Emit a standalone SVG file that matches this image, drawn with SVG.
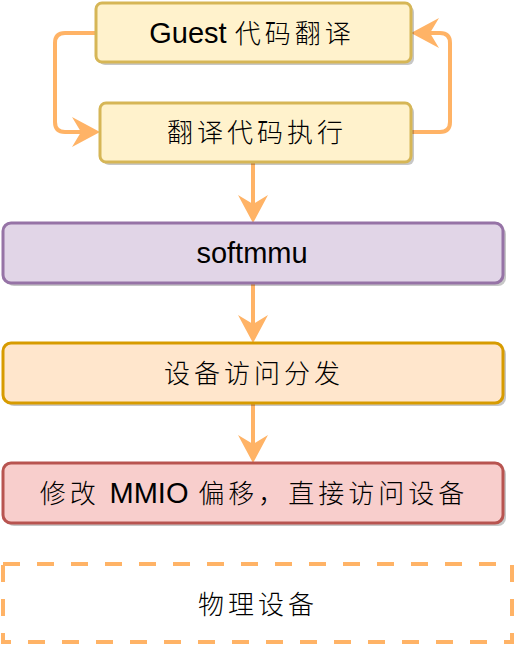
<svg xmlns="http://www.w3.org/2000/svg" width="516" height="646" viewBox="0 0 516 646">
<style>
.shadow{fill:#000;opacity:0.22}
.box{stroke-width:3}
.lat{font-family:"Liberation Sans","Noto Sans CJK SC",sans-serif;font-size:29px;fill:#000;text-anchor:middle}
.cjk{font-family:"Noto Sans CJK SC","Liberation Sans",sans-serif;font-size:26px;fill:#000;text-anchor:middle;letter-spacing:4px;font-weight:300}
.conn{fill:none;stroke:#FFB366;stroke-width:4}
</style>
<defs>
<marker id="arr" viewBox="0 0 28 30" refX="9" refY="15" markerWidth="28" markerHeight="30" markerUnits="userSpaceOnUse" orient="auto">
<path d="M0,0 L28,15 L0,30 L9,15 Z" fill="#FFB366"/>
</marker>
</defs>
<g id="connectors">
<path class="conn" d="M96,33 L65,33 Q55,33 55,43 L55,122 Q55,132 65,132 L81,132" marker-end="url(#arr)"/>
<path class="conn" d="M411,132 L440,132 Q450,132 450,122 L450,43 Q450,33 440,33 L430,33" marker-end="url(#arr)"/>
<path class="conn" d="M253,162 L253,204" marker-end="url(#arr)"/>
<path class="conn" d="M253,283 L253,324" marker-end="url(#arr)"/>
<path class="conn" d="M253,403 L253,444" marker-end="url(#arr)"/>
</g>
<g id="n1">
<rect class="shadow" x="99" y="6" width="315" height="59" rx="6"/>
<rect class="box" x="96" y="3" width="315" height="59" rx="6" fill="#fff2cc" stroke="#d6b656"/>
<text class="lat" x="252" y="43">Guest <tspan class="cjk" style="font-size:26px">代码翻译</tspan></text>
</g>
<g id="n2">
<rect class="shadow" x="103" y="106" width="311" height="59" rx="6"/>
<rect class="box" x="100" y="103" width="311" height="59" rx="6" fill="#fff2cc" stroke="#d6b656"/>
<text class="cjk" x="257" y="142">翻译代码执行</text>
</g>
<g id="n3">
<rect class="shadow" x="6" y="226" width="500" height="60" rx="8"/>
<rect class="box" x="3" y="223" width="500" height="60" rx="8" fill="#e1d5e7" stroke="#9673a6"/>
<text class="lat" x="252" y="263">softmmu</text>
</g>
<g id="n4">
<rect class="shadow" x="6" y="346" width="500" height="60" rx="8"/>
<rect class="box" x="3" y="343" width="500" height="60" rx="8" fill="#ffe6cc" stroke="#d79b00"/>
<text class="cjk" x="254" y="383">设备访问分发</text>
</g>
<g id="n5">
<rect class="shadow" x="6" y="466" width="500" height="60" rx="8"/>
<rect class="box" x="3" y="463" width="500" height="60" rx="8" fill="#f8cecc" stroke="#b85450"/>
<text class="cjk" x="254" y="503">修改 <tspan class="lat" style="letter-spacing:0">MMIO</tspan> 偏移，直接访问设备</text>
</g>
<g id="n6">
<rect x="3" y="564" width="509" height="78" fill="none" stroke="#FFB366" stroke-width="4" stroke-dasharray="17 17"/>
<text class="cjk" x="258" y="614">物理设备</text>
</g>
</svg>
